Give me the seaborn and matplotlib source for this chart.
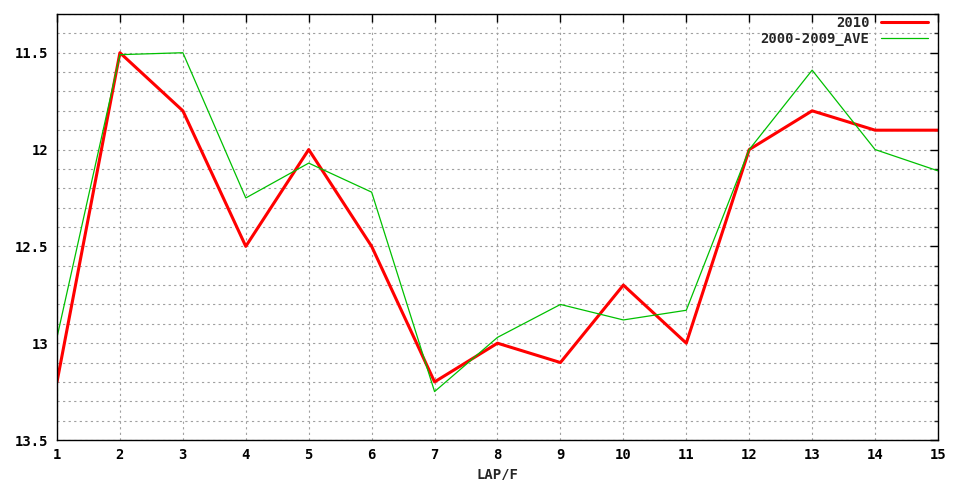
import numpy as np
import pandas as pd
import matplotlib
matplotlib.use("Agg")
import matplotlib.pyplot as plt
import seaborn as sns
from matplotlib.ticker import MultipleLocator

laps = list(range(1, 16))
y2010 = [13.2, 11.5, 11.8, 12.5, 12.0, 12.5, 13.2, 13.0, 13.1, 12.7, 13.0, 12.0, 11.8, 11.9, 11.9]
ave = [12.97, 11.51, 11.5, 12.25, 12.07, 12.22, 13.25, 12.97, 12.8, 12.88, 12.83, 12.0, 11.59, 12.0, 12.11]

df = pd.DataFrame({'lap': laps, '2010': y2010, '2000-2009_AVE': ave})

sns.set_style("white")
plt.rcParams['font.family'] = ['DejaVu Sans Mono', 'DejaVu Sans']

fig = plt.figure(figsize=(9.6, 4.8), dpi=100)
ax = fig.add_axes([57/960, 40/480, 881/960, 426/480])

sns.lineplot(x='lap', y='2010', data=df, color='#ff0000', linewidth=2.2, label='2010', ax=ax)
sns.lineplot(x='lap', y='2000-2009_AVE', data=df, color='#00c000', linewidth=0.9,
             label='2000-2009_AVE', ax=ax)

ax.set_xlim(1, 15)
ax.set_ylim(13.5, 11.3)
ax.set_xticks(laps)
ax.yaxis.set_minor_locator(MultipleLocator(0.1))
ax.set_yticks([11.5, 12.0, 12.5, 13.0, 13.5])
ax.set_yticklabels(['11.5', '12', '12.5', '13', '13.5'])

ax.grid(True, which='both', axis='y', color='#a0a0a0', linestyle=(0, (2, 3)), linewidth=0.8)
ax.grid(True, which='major', axis='x', color='#a0a0a0', linestyle=(0, (2, 3)), linewidth=0.8)

ax.tick_params(axis='both', which='major', direction='in', length=6, width=1,
               top=True, right=True, labelsize=10, colors='black', pad=6)
ax.tick_params(axis='both', which='minor', direction='in', length=3, width=1,
               top=False, right=True)
for lbl in ax.get_xticklabels() + ax.get_yticklabels():
    lbl.set_fontweight('bold')

for s in ax.spines.values():
    s.set_color('black')
    s.set_linewidth(1)

ax.set_xlabel("LAP/F", fontsize=10, fontweight='bold')
ax.set_ylabel("")

ax.legend(loc='upper right', frameon=False, markerfirst=False,
          handlelength=3.4, borderaxespad=0.0, borderpad=0.1, labelspacing=0.1,
          bbox_to_anchor=(0.99, 0.998), prop={'weight': 'bold', 'size': 10})

plt.savefig("out.png", dpi=100)
